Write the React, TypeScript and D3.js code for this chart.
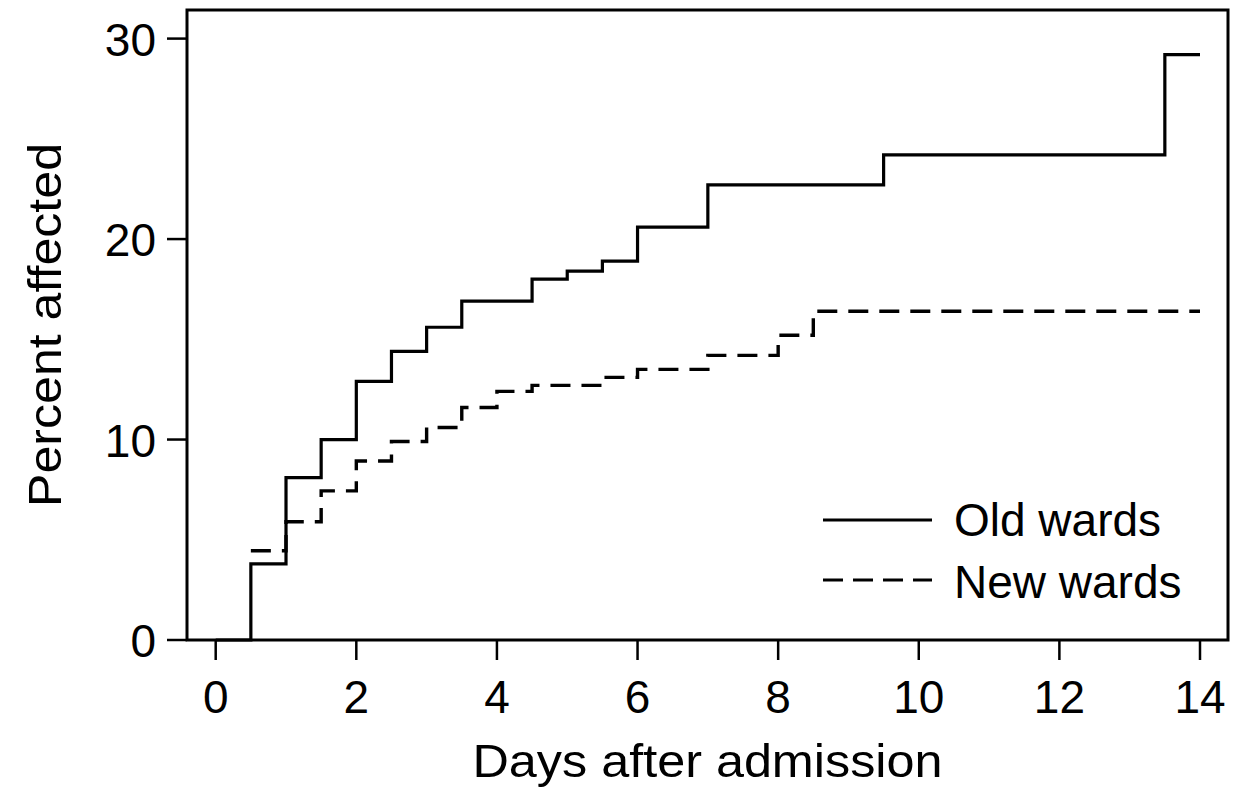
import React from "react";
import * as d3 from "d3";

const oldDays = [0, 0.5, 1, 1.5, 2, 2.5, 3, 3.5, 4.5, 5, 5.5, 6, 7, 9.5, 13.5, 14];
const oldPct = [0, 3.8, 8.1, 10.0, 12.9, 14.4, 15.6, 16.9, 18.0, 18.4, 18.9, 20.6, 22.7, 24.2, 29.2, 29.2];
const newDays = [0.5, 1, 1.5, 2, 2.5, 3, 3.5, 4, 4.5, 5.5, 6, 7, 8, 8.5, 14];
const newPct = [4.45, 5.9, 7.44, 8.93, 9.9, 10.6, 11.6, 12.4, 12.7, 13.1, 13.5, 14.2, 15.2, 16.4, 16.4];
const xTicks = [0, 2, 4, 6, 8, 10, 12, 14];
const yTicks = [0, 10, 20, 30];
const seriesNames = ["Old wards", "New wards"];

const W = 1241;
const H = 791;
const frame = { left: 187, right: 1228, top: 10, bottom: 640 };
const FONT = "'Liberation Sans', Arial, sans-serif";

export default function App() {
  const x = d3.scaleLinear().domain([0, 14]).range([215.7, 1200]);
  const y = d3.scaleLinear().domain([0, 30]).range([640, 38.6]);
  const line = d3
    .line<[number, number]>()
    .x((d) => x(d[0]))
    .y((d) => y(d[1]))
    .curve(d3.curveStepAfter);
  const oldData = oldDays.map((d, i) => [d, oldPct[i]] as [number, number]);
  const newData = newDays.map((d, i) => [d, newPct[i]] as [number, number]);

  return (
    <svg
      width={W}
      height={H}
      style={{ position: "absolute", left: 0, top: 0, background: "#fff" }}
      fontFamily={FONT}
    >
      <rect x={0} y={0} width={W} height={H} fill="#fff" />
      {/* data lines */}
      <path d={line(oldData) || ""} fill="none" stroke="#000" strokeWidth={3.2} />
      <path
        d={line(newData) || ""}
        fill="none"
        stroke="#000"
        strokeWidth={3.4}
        strokeDasharray="20,11"
      />
      {/* frame */}
      <rect
        x={frame.left}
        y={frame.top}
        width={frame.right - frame.left}
        height={frame.bottom - frame.top}
        fill="none"
        stroke="#000"
        strokeWidth={3}
      />
      {/* y axis */}
      {yTicks.map((t) => (
        <g key={"y" + t}>
          <line x1={167} x2={frame.left} y1={y(t)} y2={y(t)} stroke="#000" strokeWidth={2.5} />
          <text x={156} y={y(t) + 17} fontSize={46} textAnchor="end" fill="#000">
            {t}
          </text>
        </g>
      ))}
      {/* x axis */}
      {xTicks.map((t) => (
        <g key={"x" + t}>
          <line x1={x(t)} x2={x(t)} y1={frame.bottom} y2={660} stroke="#000" strokeWidth={2.5} />
          <text x={x(t)} y={713} fontSize={46} textAnchor="middle" fill="#000">
            {t}
          </text>
        </g>
      ))}
      <text
        x={707.5}
        y={777}
        fontSize={46}
        textAnchor="middle"
        fill="#000"
        textLength={470}
        lengthAdjust="spacingAndGlyphs"
      >
        Days after admission
      </text>
      <text
        transform={`translate(61,325) rotate(-90)`}
        fontSize={46}
        textAnchor="middle"
        fill="#000"
        textLength={364}
        lengthAdjust="spacingAndGlyphs"
      >
        Percent affected
      </text>
      {/* legend */}
      <line x1={823} x2={932} y1={520} y2={520} stroke="#000" strokeWidth={3} />
      <line
        x1={823}
        x2={932}
        y1={580}
        y2={580}
        stroke="#000"
        strokeWidth={3}
        strokeDasharray="20,10"
      />
      <text x={954} y={536} fontSize={46} fill="#000">
        {seriesNames[0]}
      </text>
      <text x={954} y={598} fontSize={46} fill="#000">
        {seriesNames[1]}
      </text>
    </svg>
  );
}
